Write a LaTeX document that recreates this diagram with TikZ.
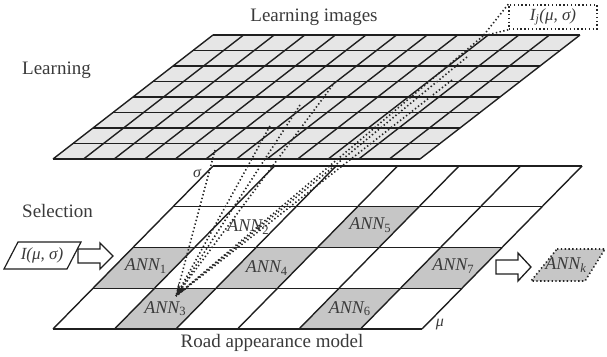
\documentclass[tikz,border=0pt]{standalone}
\usepackage{fontspec}
\setmainfont{Liberation Serif}
\usetikzlibrary{arrows.meta}
\definecolor{txt}{HTML}{3A3A3A}
\definecolor{topcell}{HTML}{E6E6E6}
\definecolor{anncell}{HTML}{C6C6C6}
\tikzset{
  gridline/.style={line width=1.4pt, draw=black!88},
  lbl/.style={text=txt, font=\fontsize{19}{21}\selectfont, inner sep=0pt},
  annlbl/.style={text=txt, font=\fontsize{18}{20}\selectfont\itshape, inner sep=0pt},
  sym/.style={text=txt, font=\fontsize{16}{18}\selectfont\itshape, inner sep=0pt},
  dots/.style={line width=1.6pt, dash pattern=on 1.4pt off 2.4pt, draw=black!85},
  hollow/.style={draw=black!88, line width=1.3pt, fill=white},
}
\newcommand{\annsub}[1]{ANN\textsubscript{\upshape #1}}
\begin{document}
\begin{tikzpicture}[x=1pt,y=-1pt]
\useasboundingbox (0,0) rectangle (607,356);
% ---------- top grid (learning images) ----------
\begin{scope}[shift={(213,35)}, x={(30.583pt,0pt)}, y={(-20pt,-15.5pt)}]
  \fill[topcell] (0,0) -- (12,0) -- (12,8) -- (0,8) -- cycle;
  \foreach \i in {0,...,12} \draw[gridline] (\i,0) -- (\i,8);
  \foreach \j in {0,...,8} \draw[gridline] (0,\j) -- (12,\j);
\end{scope}
% ---------- bottom grid (road appearance model) ----------
\begin{scope}[shift={(213,166)}, x={(61.5pt,0pt)}, y={(-40pt,-40.75pt)}]
  \foreach \i/\j in {0/2,1/3,2/2,3/1,4/3,5/2}
    \fill[anncell] (\i,\j) -- ++(1,0) -- ++(0,1) -- ++(-1,0) -- cycle;
  \foreach \i in {0,...,6} \draw[gridline] (\i,0) -- (\i,4);
  \foreach \j in {0,...,4} \draw[gridline] (0,\j) -- (6,\j);
  \node[annlbl] (ann1) at (0.5,2.45) {\annsub{1}};
  \node[annlbl] (ann2) at (1.55,1.5) {\annsub{2}};
  \node[annlbl] (ann3) at (1.5,3.5) {\annsub{3}};
  \node[annlbl] (ann4) at (2.5,2.5) {\annsub{4}};
  \node[annlbl] (ann5) at (3.5,1.45) {\annsub{5}};
  \node[annlbl] (ann6) at (4.5,3.5) {\annsub{6}};
  \node[annlbl] (ann7) at (5.5,2.45) {\annsub{7}};
\end{scope}
% ---------- texts ----------
\node[lbl] (title) at (314,17) {Learning images};
\node[lbl, anchor=west] (learning) at (22,70) {Learning};
\node[lbl, anchor=west] (selection) at (22,211) {Selection};
\node[lbl] (road) at (272,343) {Road appearance model};
\node[sym] (sigma) at (197,173) {σ};
\node[sym] (mu) at (440,325) {μ};
% ---------- I_j box ----------
\node[sym, draw=black!85, line width=1.5pt, dash pattern=on 1.4pt off 2.4pt,
      minimum width=88pt, minimum height=24pt, font=\fontsize{17}{19}\selectfont\itshape] (ij) at (553,17) {I\textsubscript{j}(μ, σ)};
\coordinate (p1) at (483,36);
\draw[dots] (ij.north west) -- (p1);
\draw[dots] (ij.south west) -- (p1);
% ---------- dotted selection lines ----------
\coordinate (tip) at (176,296);
\coordinate (s2) at (467,57);
\coordinate (s3) at (452,80);
\coordinate (s4) at (335,82);
\coordinate (s5) at (300,105);
\coordinate (s6) at (270,126);
\coordinate (s7) at (215,150);
\foreach \s in {p1,s2,s3,s4,s6,s7} \draw[dots] (\s) -- (tip);
\draw[dots, -{Stealth[length=12pt,width=10pt,line width=0pt]}] (s5) -- (tip);
% ---------- input parallelogram ----------
\coordinate (inA) at (18,242);
\coordinate (inB) at (81,242);
\coordinate (inC) at (67,269);
\coordinate (inD) at (4,269);
\draw[gridline, line width=1.2pt] (inA) -- (inB) -- (inC) -- (inD) -- cycle;
\node[sym, font=\fontsize{17}{19}\selectfont\itshape] (input) at (42,255) {I(μ, σ)};
% ---------- hollow arrows ----------
\draw[hollow] (78,249) -- (100,249) -- (100,243) -- (113,256) -- (100,269) -- (100,263) -- (78,263) -- cycle;
\draw[hollow] (496,260) -- (518,260) -- (518,253) -- (531,267) -- (518,281) -- (518,274) -- (496,274) -- cycle;
% ---------- output parallelogram ----------
\coordinate (outA) at (557,249);
\coordinate (outB) at (605,249);
\coordinate (outC) at (585,281);
\coordinate (outD) at (531,281);
\filldraw[fill=anncell, dots] (outA) -- (outB) -- (outC) -- (outD) -- cycle;
\node[annlbl] (annk) at (566,265) {ANN\textsubscript{k}};
\end{tikzpicture}
\end{document}
